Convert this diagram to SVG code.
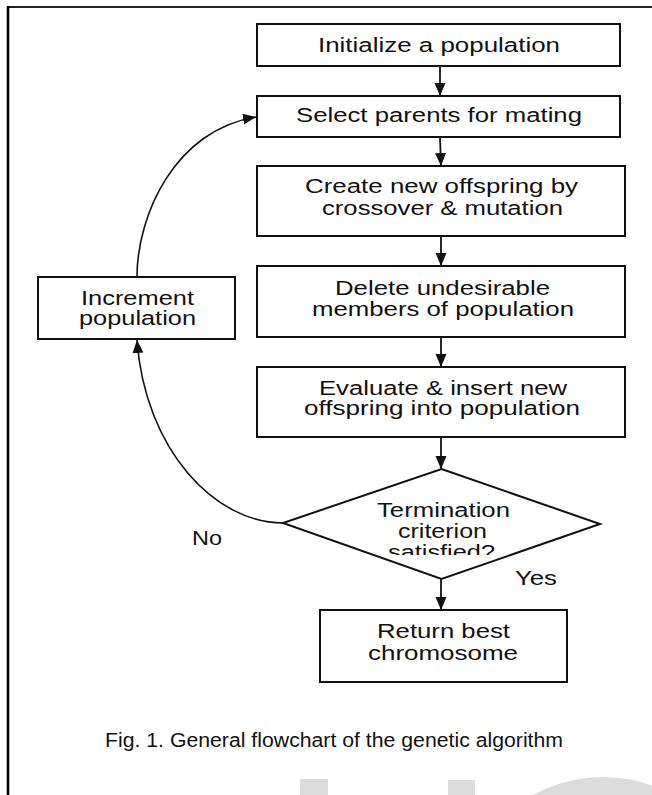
<svg xmlns="http://www.w3.org/2000/svg" width="652" height="795" viewBox="0 0 652 795">
<style>
.box{fill:#fff;stroke:#111;stroke-width:2}
.t{font-family:"Liberation Sans",Arial,sans-serif;font-size:20px;fill:#111;text-anchor:middle}
.c{fill:none;stroke:#111;stroke-width:1.6}
.a{fill:none;stroke:#111;stroke-width:1.8}
.wm{fill:#dcdcdc}
</style>
<defs>
<marker id="ah" markerUnits="userSpaceOnUse" markerWidth="14" markerHeight="12" refX="13" refY="5.5" orient="auto">
<path d="M0,0 L13,5.5 L0,11 z" fill="#111"/>
</marker>
<clipPath id="clipSat"><rect x="300" y="540" width="300" height="15"/></clipPath>
</defs>
<rect width="652" height="795" fill="#fff"/>
<g id="watermark">
<rect class="wm" x="300" y="779" width="28" height="16"/>
<rect class="wm" x="448" y="780" width="27" height="15"/>
<circle class="wm" cx="603" cy="922" r="145"/>
</g>
<g id="frame">
<line x1="7" y1="7" x2="652" y2="7" stroke="#222" stroke-width="2"/>
<line x1="8" y1="6" x2="8" y2="795" stroke="#000" stroke-width="2.5"/>
</g>
<g id="connectors">
<line class="a" x1="440" y1="66" x2="440" y2="96" marker-end="url(#ah)"/>
<line class="a" x1="440" y1="137" x2="441" y2="166" marker-end="url(#ah)"/>
<line class="a" x1="441" y1="236" x2="441" y2="266" marker-end="url(#ah)"/>
<line class="a" x1="441" y1="337" x2="441" y2="367" marker-end="url(#ah)"/>
<line class="a" x1="441" y1="437" x2="441" y2="469" marker-end="url(#ah)"/>
<line class="a" x1="441" y1="579" x2="441" y2="610" marker-end="url(#ah)"/>
<path class="c" d="M137,277 C137,215 175,130 256,117" marker-end="url(#ah)"/>
<path class="c" d="M283,523 C215,523 145,450 137,340" marker-end="url(#ah)"/>
<text class="t" x="207" y="545" textLength="30" lengthAdjust="spacingAndGlyphs">No</text>
<text class="t" x="536" y="585" textLength="42" lengthAdjust="spacingAndGlyphs">Yes</text>
</g>
<g id="init">
<rect class="box" x="257" y="24" width="363" height="42"/>
<text class="t" x="439" y="52" textLength="242" lengthAdjust="spacingAndGlyphs">Initialize a population</text>
</g>
<g id="select">
<rect class="box" x="257" y="96" width="363" height="41"/>
<text class="t" x="439" y="122" textLength="286" lengthAdjust="spacingAndGlyphs">Select parents for mating</text>
</g>
<g id="create">
<rect class="box" x="257" y="166" width="368" height="70"/>
<text class="t" x="441.5" y="193" textLength="273" lengthAdjust="spacingAndGlyphs">Create new offspring by</text>
<text class="t" x="442.5" y="215" textLength="241" lengthAdjust="spacingAndGlyphs">crossover &amp; mutation</text>
</g>
<g id="delete">
<rect class="box" x="257" y="266" width="368" height="71"/>
<text class="t" x="442.5" y="295" textLength="215" lengthAdjust="spacingAndGlyphs">Delete undesirable</text>
<text class="t" x="443" y="316" textLength="262" lengthAdjust="spacingAndGlyphs">members of population</text>
</g>
<g id="evaluate">
<rect class="box" x="257" y="367" width="368" height="70"/>
<text class="t" x="443" y="395" textLength="248" lengthAdjust="spacingAndGlyphs">Evaluate &amp; insert new</text>
<text class="t" x="442" y="415" textLength="276" lengthAdjust="spacingAndGlyphs">offspring into population</text>
</g>
<g id="increment">
<rect class="box" x="38" y="277" width="197" height="62"/>
<text class="t" x="137.5" y="305" textLength="113" lengthAdjust="spacingAndGlyphs">Increment</text>
<text class="t" x="137.5" y="325" textLength="117" lengthAdjust="spacingAndGlyphs">population</text>
</g>
<g id="decision">
<polygon class="box" points="441.5,469 600,524 441.5,579 283,523"/>
<text class="t" x="443.5" y="517" textLength="133" lengthAdjust="spacingAndGlyphs">Termination</text>
<text class="t" x="442.5" y="538" textLength="89" lengthAdjust="spacingAndGlyphs">criterion</text>
<text class="t" x="441.5" y="559" textLength="107" lengthAdjust="spacingAndGlyphs" clip-path="url(#clipSat)">satisfied?</text>
</g>
<g id="return">
<rect class="box" x="320" y="610" width="247" height="72"/>
<text class="t" x="443.5" y="638" textLength="133" lengthAdjust="spacingAndGlyphs">Return best</text>
<text class="t" x="443" y="660" textLength="150" lengthAdjust="spacingAndGlyphs">chromosome</text>
</g>
<g id="caption">
<text class="t" x="334" y="747" textLength="458" lengthAdjust="spacingAndGlyphs">Fig. 1. General flowchart of the genetic algorithm</text>
</g>
</svg>
